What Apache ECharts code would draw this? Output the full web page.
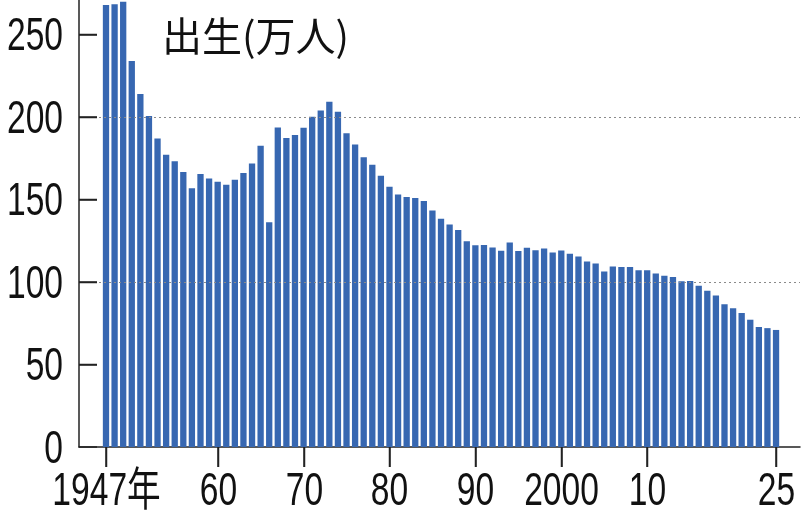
<!DOCTYPE html>
<html>
<head>
<meta charset="utf-8">
<script src="https://cdn.jsdelivr.net/npm/echarts@6/dist/echarts.min.js"></script>
<style>
html,body{margin:0;padding:0;background:#fff;}
#chart{width:808px;height:516px;}
</style>
</head>
<body>
<div id="chart"></div>
<script>
const years = [1947,1948,1949,1950,1951,1952,1953,1954,1955,1956,1957,1958,1959,
  1960,1961,1962,1963,1964,1965,1966,1967,1968,1969,
  1970,1971,1972,1973,1974,1975,1976,1977,1978,1979,
  1980,1981,1982,1983,1984,1985,1986,1987,1988,1989,
  1990,1991,1992,1993,1994,1995,1996,1997,1998,1999,
  2000,2001,2002,2003,2004,2005,2006,2007,2008,2009,
  2010,2011,2012,2013,2014,2015,2016,2017,2018,2019,
  2020,2021,2022,2023,2024,2025];
const births = [267.7,268.2,269.7,233.8,213.8,200.5,186.8,177.0,173.1,166.5,156.7,165.3,162.6,
  160.6,158.9,161.9,166.0,171.7,182.4,136.1,193.6,187.2,189.0,
  193.4,200.1,203.9,209.2,203.0,190.1,183.3,175.5,170.9,164.3,
  157.7,152.9,151.5,150.9,149.0,143.2,138.3,134.7,131.4,124.7,
  122.2,122.3,120.9,118.8,123.8,118.7,120.7,119.2,120.3,117.8,
  119.1,117.1,115.4,112.4,111.1,106.3,109.3,109.0,109.1,107.0,
  107.1,105.1,103.7,103.0,100.4,100.6,97.7,94.6,91.8,86.5,
  84.1,81.2,77.1,72.7,72.0,70.9];
const xTickYears = [1947,1960,1970,1980,1990,2000,2010,2025];
const xTickLabels = ['1947年','60','70','80','90','2000','10','25'];
const yTicks = [0,50,100,150,200,250];
const gridValues = [100,200];
const titleText = '出生(万人)';

const numFont = '"Liberation Sans",Arial,"Noto Sans CJK JP",sans-serif';
const numSize = 46;
const squeeze = 0.73;
const axisColor = '#222';
const chart = echarts.init(document.getElementById('chart'), null, {renderer:'canvas'});

chart.setOption({
  animation:false,
  backgroundColor:'#ffffff',
  title:{
    text:titleText,
    left:157, top:11,
    textStyle:{fontFamily:'"Noto Sans CJK JP",sans-serif',fontSize:40,fontWeight:'normal',color:'#111'}
  },
  grid:{left:79,right:8,top:-7,bottom:69,containLabel:false,outerBoundsMode:'none'},
  xAxis:{
    type:'value',
    min:1943.857, max:2027.79,
    axisLine:{show:true,lineStyle:{color:axisColor,width:1.5}},
    axisTick:{show:true,customValues:xTickYears,length:20,lineStyle:{color:axisColor,width:1.5}},
    axisLabel:{show:false},
    splitLine:{show:false}
  },
  yAxis:{
    type:'value',
    min:0, max:275, interval:50,
    axisLine:{show:true,lineStyle:{color:axisColor,width:1.5}},
    axisTick:{show:true,inside:true,length:18,lineStyle:{color:axisColor,width:1.5}},
    axisLabel:{show:false},
    splitLine:{show:false}
  },
  series:[
    {
      type:'line', data:[], z:1, silent:true,
      markLine:{
        silent:true, symbol:['none','none'], label:{show:false},
        lineStyle:{type:[2,3],color:'#8a8a8a',width:1},
        data: gridValues.map(v=>({yAxis:v}))
      }
    },
    {
      type:'bar', z:3,
      barWidth:6.3,
      itemStyle:{color:'#3767b1'},
      data: years.map((y,i)=>[y,births[i]])
    }
  ]
});

// Tick marks and tick labels (condensed face), placed through the axes' own scales
const axisY0 = chart.convertToPixel({yAxisIndex:0}, 0);
const axisX0 = chart.convertToPixel({xAxisIndex:0}, 1943.857);
const els = [];
yTicks.forEach(v=>{
  const py = Math.round(chart.convertToPixel({yAxisIndex:0}, v)) + 0.5;
  if (v !== 0) {
    els.push({type:'line', silent:true, z:10,
      shape:{x1:axisX0, y1:py, x2:axisX0+18, y2:py},
      style:{stroke:axisColor, lineWidth:1.5}});
  }
  els.push({
    type:'text', x: axisX0 - 16, y: py + 3,
    scaleX: squeeze, silent:true,
    style:{text:String(v), font: numSize+'px '+numFont, fill:'#111', align:'right', verticalAlign:'middle'}
  });
});
xTickYears.forEach((yr,i)=>{
  const px = Math.round(chart.convertToPixel({xAxisIndex:0}, yr)) + 0.5;
  els.push({type:'line', silent:true, z:10,
    shape:{x1:px, y1:axisY0, x2:px, y2:axisY0+20},
    style:{stroke:axisColor, lineWidth:1.5}});
  els.push({
    type:'text', x: px, y: axisY0 + 22,
    scaleX: squeeze, silent:true,
    style:{text:xTickLabels[i], font: numSize+'px '+numFont, fill:'#111', align:'center', verticalAlign:'top'}
  });
});
chart.setOption({graphic:{elements:els}});
</script>
</body>
</html>
